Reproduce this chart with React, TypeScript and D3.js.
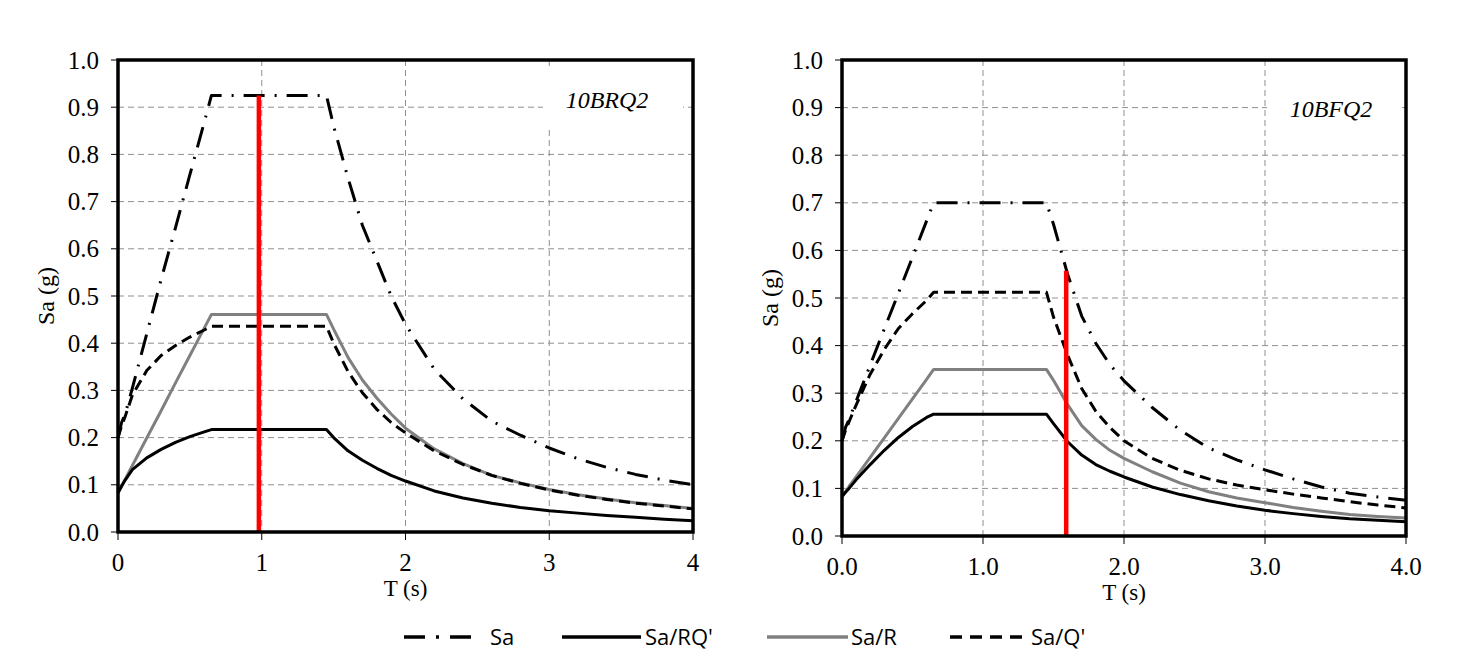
import { useEffect, useRef } from 'react';
import * as d3 from 'd3';

const PERIODS = [
  0, 0.025, 0.05, 0.1, 0.2, 0.3, 0.4, 0.5, 0.6, 0.65, 1.45, 1.5, 1.6, 1.7, 1.8, 1.9, 2.0, 2.2, 2.4,
  2.6, 2.8, 3.0, 3.2, 3.4, 3.6, 3.8, 4.0,
];

// 10BRQ2 (left panel)
const BRQ_SA = [
  0.2, 0.232, 0.25, 0.305, 0.42, 0.535, 0.645, 0.757, 0.868, 0.925, 0.925, 0.86, 0.75, 0.65, 0.575,
  0.5, 0.44, 0.345, 0.282, 0.235, 0.205, 0.178, 0.155, 0.137, 0.122, 0.11, 0.1,
];
const BRQ_SA_RQ = [
  0.083, 0.097, 0.11, 0.132, 0.157, 0.175, 0.19, 0.202, 0.212, 0.217, 0.217, 0.2, 0.172, 0.152,
  0.135, 0.12, 0.108, 0.087, 0.072, 0.061, 0.052, 0.045, 0.04, 0.035, 0.031, 0.027, 0.024,
];
const BRQ_SA_R = [
  0.083, 0.098, 0.112, 0.141, 0.199, 0.257, 0.316, 0.374, 0.432, 0.461, 0.461, 0.43, 0.37, 0.322,
  0.284, 0.25, 0.22, 0.176, 0.145, 0.12, 0.104, 0.09, 0.079, 0.07, 0.062, 0.056, 0.05,
];
const BRQ_SA_Q = [
  0.2, 0.225, 0.245, 0.29, 0.342, 0.374, 0.395, 0.413, 0.428, 0.436, 0.436, 0.4, 0.34, 0.295, 0.26,
  0.232, 0.21, 0.172, 0.143, 0.12, 0.103, 0.089, 0.078, 0.069, 0.061, 0.055, 0.049,
];
const BRQ_MARKER = [0.98, 0.925];

// 10BFQ2 (right panel)
const BFQ_SA = [
  0.2, 0.228, 0.245, 0.283, 0.359, 0.435, 0.51, 0.586, 0.662, 0.7, 0.7, 0.655, 0.55, 0.462, 0.405,
  0.36, 0.326, 0.27, 0.222, 0.185, 0.16, 0.139, 0.12, 0.103, 0.09, 0.082, 0.075,
];
const BFQ_SA_RQ = [
  0.083, 0.092, 0.1, 0.118, 0.15, 0.18, 0.207, 0.23, 0.249, 0.256, 0.256, 0.236, 0.198, 0.17, 0.15,
  0.136, 0.124, 0.103, 0.087, 0.074, 0.063, 0.054, 0.047, 0.041, 0.036, 0.033, 0.03,
];
const BFQ_SA_R = [
  0.083, 0.093, 0.104, 0.124, 0.165, 0.206, 0.247, 0.288, 0.329, 0.35, 0.35, 0.327, 0.276, 0.232,
  0.203, 0.18, 0.163, 0.135, 0.111, 0.093, 0.08, 0.07, 0.06, 0.052, 0.045, 0.041, 0.038,
];
const BFQ_SA_Q = [
  0.2, 0.222, 0.24, 0.275, 0.34, 0.392, 0.436, 0.467, 0.495, 0.512, 0.512, 0.46, 0.38, 0.31, 0.262,
  0.228, 0.2, 0.163, 0.138, 0.12, 0.107, 0.097, 0.088, 0.08, 0.072, 0.065, 0.059,
];
const BFQ_MARKER = [1.59, 0.557];

const X_TICKS = [0, 1, 2, 3, 4];
const Y_TICKS = [0, 0.1, 0.2, 0.3, 0.4, 0.5, 0.6, 0.7, 0.8, 0.9, 1.0];
const SERIES_NAMES = ['Sa', "Sa/RQ'", 'Sa/R', "Sa/Q'"];

const SERIF = "'Liberation Serif', 'Times New Roman', serif";
const SANS = "'Open Sans', 'Noto Sans', sans-serif";
const GRID = '#8f8f8f';
const GREY_LINE = '#808080';

const STYLES = [
  { stroke: '#000', width: 3, dash: '21 10 2 10' },
  { stroke: '#000', width: 3, dash: null },
  { stroke: GREY_LINE, width: 3, dash: null },
  { stroke: '#000', width: 3, dash: '11 6' },
];

interface PanelCfg {
  frame: { x0: number; x1: number; y0: number; y1: number };
  series: number[][];
  marker: number[];
  name: string;
  nameX: number;
  nameY: number;
  nameBox: [number, number, number, number];
  xFormat: (d: number) => string;
}

const PANELS: PanelCfg[] = [
  {
    frame: { x0: 118, x1: 693, y0: 60, y1: 532 },
    series: [BRQ_SA, BRQ_SA_RQ, BRQ_SA_R, BRQ_SA_Q],
    marker: BRQ_MARKER,
    name: '10BRQ2',
    nameX: 607,
    nameY: 108,
    nameBox: [543, 70, 140, 60],
    xFormat: d3.format('d'),
  },
  {
    frame: { x0: 842, x1: 1406, y0: 60, y1: 536 },
    series: [BFQ_SA, BFQ_SA_RQ, BFQ_SA_R, BFQ_SA_Q],
    marker: BFQ_MARKER,
    name: '10BFQ2',
    nameX: 1331,
    nameY: 117,
    nameBox: [1267, 88, 133, 40],
    xFormat: d3.format('.1f'),
  },
];

function drawPanel(g: d3.Selection<SVGGElement, unknown, null, undefined>, cfg: PanelCfg) {
  const { x0, x1, y0, y1 } = cfg.frame;
  const x = d3.scaleLinear().domain([0, 4]).range([x0, x1]);
  const y = d3.scaleLinear().domain([0, 1]).range([y1, y0]);

  // grid
  g.selectAll('line.hgrid')
    .data(Y_TICKS.slice(1, -1))
    .join('line')
    .attr('class', 'hgrid')
    .attr('x1', x0)
    .attr('x2', x1)
    .attr('y1', (d) => y(d))
    .attr('y2', (d) => y(d))
    .attr('stroke', GRID)
    .attr('stroke-width', 1)
    .attr('stroke-dasharray', '6 4');
  g.selectAll('line.vgrid')
    .data(X_TICKS.slice(1, -1))
    .join('line')
    .attr('class', 'vgrid')
    .attr('x1', (d) => x(d))
    .attr('x2', (d) => x(d))
    .attr('y1', y0)
    .attr('y2', y1)
    .attr('stroke', GRID)
    .attr('stroke-width', 1)
    .attr('stroke-dasharray', '6 4');

  // label with white backing
  const [bx, by, bw, bh] = cfg.nameBox;
  g.append('rect').attr('x', bx).attr('y', by).attr('width', bw).attr('height', bh).attr('fill', '#fff');
  g.append('text')
    .attr('x', cfg.nameX)
    .attr('y', cfg.nameY)
    .attr('text-anchor', 'middle')
    .attr('font-family', SERIF)
    .attr('font-style', 'italic')
    .attr('font-size', 24)
    .text(cfg.name);

  // curves: grey first so the black ones sit on top
  const line = d3
    .line<number>()
    .x((_, i) => x(PERIODS[i]))
    .y((d) => y(d));
  [2, 1, 3, 0].forEach((k) => {
    const st = STYLES[k];
    g.append('path')
      .attr('d', line(cfg.series[k]))
      .attr('fill', 'none')
      .attr('stroke', st.stroke)
      .attr('stroke-width', st.width)
      .attr('stroke-dasharray', st.dash)
      .attr('stroke-linejoin', 'round');
  });

  // red period marker
  g.append('line')
    .attr('x1', x(cfg.marker[0]))
    .attr('x2', x(cfg.marker[0]))
    .attr('y1', y(0))
    .attr('y2', y(cfg.marker[1]))
    .attr('stroke', '#ff0000')
    .attr('stroke-width', 4.5);

  // ticks
  g.selectAll('line.ytick')
    .data(Y_TICKS)
    .join('line')
    .attr('class', 'ytick')
    .attr('x1', x0 - 7)
    .attr('x2', x0)
    .attr('y1', (d) => y(d))
    .attr('y2', (d) => y(d))
    .attr('stroke', '#000')
    .attr('stroke-width', 1);
  g.selectAll('line.xtick')
    .data(X_TICKS)
    .join('line')
    .attr('class', 'xtick')
    .attr('x1', (d) => x(d))
    .attr('x2', (d) => x(d))
    .attr('y1', y1)
    .attr('y2', y1 + 8)
    .attr('stroke', '#000')
    .attr('stroke-width', 1);

  g.selectAll('text.ylab')
    .data(Y_TICKS)
    .join('text')
    .attr('class', 'ylab')
    .attr('x', x0 - 19)
    .attr('y', (d) => y(d))
    .attr('dy', '0.34em')
    .attr('text-anchor', 'end')
    .attr('font-family', SERIF)
    .attr('font-size', 25)
    .text((d) => d3.format('.1f')(d));
  g.selectAll('text.xlab')
    .data(X_TICKS)
    .join('text')
    .attr('class', 'xlab')
    .attr('x', (d) => x(d))
    .attr('y', y1 + 39)
    .attr('text-anchor', 'middle')
    .attr('font-family', SERIF)
    .attr('font-size', 25)
    .text((d) => cfg.xFormat(d));

  // frame
  g.append('rect')
    .attr('x', x0)
    .attr('y', y0)
    .attr('width', x1 - x0)
    .attr('height', y1 - y0)
    .attr('fill', 'none')
    .attr('stroke', '#000')
    .attr('stroke-width', 3.5);

  // axis titles
  g.append('text')
    .attr('x', (x0 + x1) / 2)
    .attr('y', y1 + 64)
    .attr('text-anchor', 'middle')
    .attr('font-family', SERIF)
    .attr('font-size', 23)
    .text('T (s)');
  g.append('text')
    .attr('transform', `translate(${x0 - 64},${(y0 + y1) / 2}) rotate(-90)`)
    .attr('text-anchor', 'middle')
    .attr('font-family', SERIF)
    .attr('font-size', 24)
    .text('Sa (g)');
}

const LEGEND_SPANS = [
  [404, 474, 490],
  [562, 641, 645],
  [767, 848, 851],
  [950, 1027, 1031],
];

export default function App() {
  const svgRef = useRef<SVGSVGElement>(null);

  useEffect(() => {
    document.body.style.margin = '0';
    const svg = d3.select(svgRef.current);
    if (!svg.node()) return;
    svg.selectAll('*').remove();

    PANELS.forEach((cfg) => drawPanel(svg.append('g'), cfg));

    const legendY = 637;
    const lg = svg.append('g');
    SERIES_NAMES.forEach((name, i) => {
      const [a, b, tx] = LEGEND_SPANS[i];
      const st = STYLES[i];
      lg.append('line')
        .attr('x1', a)
        .attr('x2', b)
        .attr('y1', legendY)
        .attr('y2', legendY)
        .attr('stroke', st.stroke)
        .attr('stroke-width', 3.5)
        .attr('stroke-dasharray', st.dash ? (i === 0 ? '21 11 3 11' : '12 8') : null);
      lg.append('text')
        .attr('x', tx)
        .attr('y', legendY + 8)
        .attr('font-family', SANS)
        .attr('font-size', 22)
        .text(name);
    });
  }, []);

  return (
    <svg ref={svgRef} width={1467} height={665} style={{ display: 'block', background: '#fff' }} />
  );
}
